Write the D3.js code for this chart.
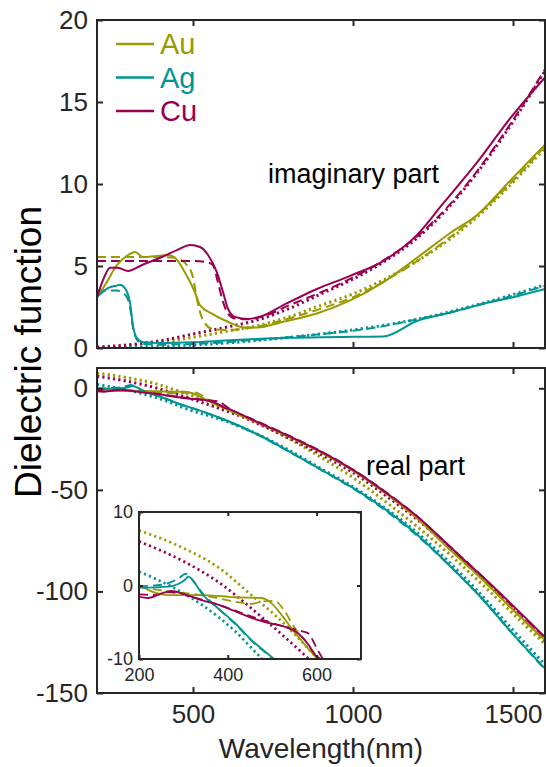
<!DOCTYPE html>
<html>
<head>
<meta charset="utf-8">
<script src="https://cdn.jsdelivr.net/npm/d3@7"></script>
<style>
  html, body { margin: 0; padding: 0; background: #fff; }
  svg { display: block; font-family: "Liberation Sans", Arial, Helvetica, sans-serif; }
</style>
</head>
<body>
<svg id="chart" width="546" height="767"></svg>
<script>
// ---- Data: [wavelength (nm), value] ----
// Imaginary part
const auImSolid = [[200,3.1],[230,4.0],[260,5.0],[297,5.67],[319,5.85],[344,5.55],[380,5.6],[422,5.67],[444,5.5],[475,4.6],[506,3.4],[522,2.6],[559,2.1],[609,1.6],[662,1.25],[700,1.25],[781,1.6],[887,2.1],[991,2.9],[1094,4.0],[1200,5.5],[1303,7.0],[1387,8.1],[1491,10.2],[1600,12.4]];
const auImDash = [[200,5.55],[300,5.55],[400,5.55],[444,5.5],[481,5.06],[500,4.3],[512,3.0],[531,1.7],[562,1.15],[600,1.1],[700,1.3],[800,1.8],[900,2.4],[1000,3.1],[1100,4.1],[1200,5.3],[1300,6.7],[1400,8.3],[1500,10.2],[1600,12.3]];
const auImDot = [[200,0.05],[300,0.15],[400,0.35],[500,0.65],[600,1.0],[700,1.35],[800,1.9],[900,2.6],[1000,3.3],[1100,4.2],[1200,5.3],[1300,6.6],[1400,8.2],[1500,10.1],[1600,12.2]];

const agImSolid = [[200,3.1],[234,3.65],[260,3.8],[272,3.85],[287,3.65],[303,2.8],[312,1.4],[325,0.6],[344,0.35],[400,0.3],[500,0.35],[600,0.45],[700,0.55],[800,0.62],[900,0.65],[1000,0.68],[1094,0.7],[1200,1.65],[1303,2.15],[1387,2.6],[1500,3.1],[1600,3.6]];
const agImDash = [[200,3.5],[230,3.5],[262,3.5],[276,3.4],[290,3.2],[303,2.5],[312,1.3],[325,0.5],[344,0.25],[400,0.2],[500,0.25],[600,0.35],[700,0.5],[800,0.65],[900,0.85],[1000,1.05],[1100,1.35],[1200,1.75],[1300,2.15],[1400,2.65],[1500,3.2],[1600,3.8]];
const agImDot = [[200,0.02],[400,0.1],[600,0.3],[800,0.65],[1000,1.1],[1200,1.75],[1400,2.7],[1600,3.85]];

const cuImSolid = [[200,3.1],[220,4.2],[241,4.9],[265,4.9],[297,4.7],[341,5.06],[403,5.55],[453,6.0],[491,6.28],[522,6.16],[547,5.67],[575,4.6],[594,3.4],[609,2.4],[631,1.9],[672,1.77],[716,1.95],[781,2.6],[887,3.6],[991,4.4],[1094,5.3],[1200,6.9],[1281,8.8],[1387,11.3],[1491,14.0],[1600,16.5]];
const cuImDash = [[200,5.3],[300,5.3],[400,5.3],[500,5.3],[540,5.25],[562,5.06],[578,4.0],[594,2.8],[609,2.1],[631,1.8],[672,1.75],[716,1.9],[800,2.6],[900,3.4],[1000,4.3],[1100,5.4],[1200,6.8],[1300,8.7],[1400,11.1],[1500,13.9],[1600,17.0]];
const cuImDot = [[200,0.05],[300,0.2],[400,0.45],[500,0.85],[600,1.25],[700,1.7],[800,2.4],[900,3.3],[1000,4.2],[1100,5.3],[1200,6.7],[1300,8.6],[1400,11.0],[1500,13.8],[1600,16.9]];

// Real part
const auReSolid = [[200,0.07],[228,-0.8],[266,-1.3],[341,-1.3],[416,-1.6],[476,-1.7],[498,-2.4],[521,-4.0],[543,-5.8],[573,-8.0],[600,-9.9],[650,-13.5],[700,-16.8],[800,-23.8],[900,-31.5],[1000,-40.5],[1100,-51.5],[1200,-64],[1300,-79],[1400,-93.5],[1500,-109],[1600,-124]];
const auReDash = [[200,-0.2],[266,-0.8],[341,-1.3],[416,-2.2],[453,-2.5],[476,-2.2],[506,-2.1],[528,-3.5],[551,-5.8],[581,-8.0],[603,-9.9],[700,-16.5],[800,-23.8],[900,-31.5],[1000,-40.5],[1100,-51.5],[1200,-64],[1300,-79],[1400,-93.5],[1500,-109],[1600,-124.5]];
const auReDot = [[200,7.5],[303,5.0],[378,2.5],[453,-1.3],[513,-4.4],[566,-7.6],[600,-9.8],[700,-16.8],[800,-24.8],[900,-34],[1000,-44],[1100,-55.6],[1200,-68],[1300,-81.5],[1400,-96],[1500,-111],[1600,-126]];

const agReSolid = [[200,-0.3],[266,-0.15],[303,0.74],[311,1.2],[326,0.3],[341,-1.06],[378,-3.1],[416,-5.1],[453,-7.4],[502,-9.9],[600,-15.5],[700,-22.5],[800,-31],[900,-40],[1000,-49],[1100,-59.5],[1200,-72],[1300,-87],[1400,-103],[1500,-121],[1600,-138]];
const agReDash = [[200,-0.1],[250,0.1],[290,1.0],[305,1.6],[320,0.8],[341,-0.9],[378,-3.1],[416,-5.2],[453,-7.5],[502,-10],[600,-15.7],[700,-22.7],[800,-31.2],[900,-40.2],[1000,-49.3],[1100,-60],[1200,-72.5],[1300,-87],[1400,-103],[1500,-121],[1600,-138.5]];
const agReDot = [[200,1.9],[266,0.07],[341,-2.6],[416,-6.2],[476,-9.9],[600,-16.0],[700,-22.5],[800,-30.5],[900,-39.5],[1000,-48.5],[1100,-59],[1200,-71],[1300,-85.5],[1400,-101.5],[1500,-119],[1600,-136]];

const cuReSolid = [[200,-1.5],[221,-1.7],[251,-1.06],[273,-0.75],[303,-1.2],[341,-2.0],[378,-2.6],[416,-3.5],[453,-4.4],[491,-5.1],[528,-5.6],[558,-6.5],[581,-8.0],[596,-9.4],[611,-10.1],[650,-12.8],[700,-16.5],[800,-23.5],[900,-31.2],[1000,-40.2],[1100,-51],[1200,-63],[1300,-77.5],[1375,-88.5],[1400,-92],[1500,-107],[1600,-122.5]];
const cuReDash = [[200,-1.2],[238,-1.3],[266,-0.9],[303,-1.3],[378,-2.6],[453,-4.2],[528,-5.6],[566,-6.2],[581,-6.5],[600,-8.5],[615,-10.1],[700,-16.2],[800,-23.3],[900,-31],[1000,-40],[1100,-50.8],[1200,-63],[1300,-77.5],[1400,-92],[1500,-107.5],[1600,-123]];
const cuReDot = [[200,6.0],[303,3.2],[378,0.5],[453,-3.1],[513,-6.2],[581,-9.9],[650,-13.8],[700,-17.2],[800,-24.5],[900,-32.5],[1000,-41.5],[1100,-52.5],[1200,-64.5],[1300,-78],[1400,-93],[1500,-108.5],[1600,-124]];

// Legend / ticks
const metals = ["Au", "Ag", "Cu"];
const metalColors = { Au: "#999900", Ag: "#009494", Cu: "#990050" };
const topTicks = [0, 5, 10, 15, 20];
const bottomTicks = [-150, -100, -50, 0];
const xTicks = [500, 1000, 1500];
const insetXTicks = [200, 400, 600];
const insetYTicks = [-10, 0, 10];

// ---- Line style per model ----
const styles = {
  solid: { width: 2, dash: null },
  dash:  { width: 2, dash: "9,5" },
  dot:   { width: 3, dash: "2.2,3.2" }
};
const imagSeries = [
  ["Au", "dot", auImDot], ["Ag", "dot", agImDot], ["Cu", "dot", cuImDot],
  ["Au", "dash", auImDash], ["Ag", "dash", agImDash], ["Cu", "dash", cuImDash],
  ["Au", "solid", auImSolid], ["Ag", "solid", agImSolid], ["Cu", "solid", cuImSolid]
];
const realSeries = [
  ["Au", "dot", auReDot], ["Ag", "dot", agReDot], ["Cu", "dot", cuReDot],
  ["Au", "dash", auReDash], ["Ag", "dash", agReDash], ["Cu", "dash", cuReDash],
  ["Au", "solid", auReSolid], ["Ag", "solid", agReSolid], ["Cu", "solid", cuReSolid]
];

const svg = d3.select("#chart");
const axisColor = "#262626";
const tickFont = 26;
const fmt = d => String(d);

// ---- Scales ----
const x = d3.scaleLinear().domain([200, 1600]).range([97, 545]);
const yTop = d3.scaleLinear().domain([0, 20]).range([348, 20]);
const yBot = d3.scaleLinear().domain([-150, 10]).range([693, 368]);
const xIn = d3.scaleLinear().domain([200, 700]).range([139, 361]);
const yIn = d3.scaleLinear().domain([-10, 10]).range([659, 512]);

const defs = svg.append("defs");
function clip(id, xs, ys) {
  defs.append("clipPath").attr("id", id).append("rect")
    .attr("x", xs.range()[0]).attr("y", ys.range()[1])
    .attr("width", xs.range()[1] - xs.range()[0])
    .attr("height", ys.range()[0] - ys.range()[1]);
}
clip("clipTop", x, yTop);
clip("clipBot", x, yBot);
clip("clipIn", xIn, yIn);

function drawSeries(g, list, xs, ys, widthScale) {
  const line = d3.line().x(d => xs(d[0])).y(d => ys(d[1])).curve(d3.curveMonotoneX);
  list.forEach(([metal, kind, data]) => {
    const st = styles[kind];
    g.append("path")
      .datum(data)
      .attr("d", line)
      .attr("fill", "none")
      .attr("stroke", metalColors[metal])
      .attr("stroke-width", st.width * widthScale)
      .attr("stroke-dasharray", st.dash)
      .attr("stroke-linejoin", "round");
  });
}

function frame(xs, ys, sw) {
  svg.append("rect")
    .attr("x", xs.range()[0]).attr("y", ys.range()[1])
    .attr("width", xs.range()[1] - xs.range()[0])
    .attr("height", ys.range()[0] - ys.range()[1])
    .attr("fill", "none").attr("stroke", axisColor).attr("stroke-width", sw);
}

function styleAxis(g, size) {
  g.select(".domain").remove();
  g.selectAll(".tick line").attr("stroke", axisColor).attr("stroke-width", 2);
  g.selectAll(".tick text").attr("fill", "#262626").attr("font-size", size)
    .attr("font-family", "'Liberation Sans', Arial, sans-serif");
}

// Boxed axes with inward ticks on all four sides; labels only left/bottom
function boxAxes(xs, ys, xTv, yTv, opt) {
  const [x0, x1] = xs.range();
  const [yb, yt] = ys.range();
  svg.append("g").attr("transform", `translate(${x0},0)`)
    .call(d3.axisLeft(ys).tickValues(yTv).tickSizeInner(-opt.tick).tickSizeOuter(0)
      .tickPadding(opt.yPad).tickFormat(opt.yLabels ? fmt : ""))
    .call(g => styleAxis(g, opt.font));
  svg.append("g").attr("transform", `translate(${x1},0)`)
    .call(d3.axisRight(ys).tickValues(yTv).tickSizeInner(-opt.tick).tickSizeOuter(0).tickFormat(""))
    .call(g => styleAxis(g, opt.font));
  svg.append("g").attr("transform", `translate(0,${yb})`)
    .call(d3.axisBottom(xs).tickValues(xTv).tickSizeInner(-opt.tick).tickSizeOuter(0)
      .tickPadding(opt.xPad).tickFormat(opt.xLabels ? fmt : ""))
    .call(g => styleAxis(g, opt.font));
  svg.append("g").attr("transform", `translate(0,${yt})`)
    .call(d3.axisTop(xs).tickValues(xTv).tickSizeInner(-opt.tick).tickSizeOuter(0).tickFormat(""))
    .call(g => styleAxis(g, opt.font));
  frame(xs, ys, 2);
}

// ---- Top panel: imaginary part ----
const gTop = svg.append("g").attr("clip-path", "url(#clipTop)");
drawSeries(gTop, imagSeries, x, yTop, 1);
boxAxes(x, yTop, xTicks, topTicks, { tick: 6, font: tickFont, yPad: 9, xPad: 12, yLabels: true, xLabels: false });

// ---- Bottom panel: real part ----
const gBot = svg.append("g").attr("clip-path", "url(#clipBot)");
drawSeries(gBot, realSeries, x, yBot, 1);
boxAxes(x, yBot, xTicks, bottomTicks, { tick: 6, font: tickFont, yPad: 9, xPad: 12, yLabels: true, xLabels: true });

// ---- Inset: short-wavelength detail of the real part ----
svg.append("rect")
  .attr("x", xIn.range()[0]).attr("y", yIn.range()[1])
  .attr("width", xIn.range()[1] - xIn.range()[0])
  .attr("height", yIn.range()[0] - yIn.range()[1])
  .attr("fill", "#fff");
const gIn = svg.append("g").attr("clip-path", "url(#clipIn)");
drawSeries(gIn, realSeries, xIn, yIn, 0.9);
boxAxes(xIn, yIn, insetXTicks, insetYTicks, { tick: 4, font: 18, yPad: 6, xPad: 9, yLabels: true, xLabels: true });

// ---- Legend ----
const legend = svg.append("g");
metals.forEach((m, i) => {
  const yy = 44 + i * 33.5;
  legend.append("line").attr("x1", 116).attr("x2", 154).attr("y1", yy).attr("y2", yy)
    .attr("stroke", metalColors[m]).attr("stroke-width", 2.5);
  legend.append("text").attr("x", 160).attr("y", yy).attr("dy", "0.36em")
    .attr("font-size", 29).attr("fill", metalColors[m]).text(m);
});

// ---- Annotations and axis titles ----
svg.append("text").attr("x", 268).attr("y", 183).attr("font-size", 27).attr("fill", "#000").text("imaginary part");
svg.append("text").attr("x", 366).attr("y", 475).attr("font-size", 27).attr("fill", "#000").text("real part");

svg.append("text")
  .attr("transform", "translate(41,352) rotate(-90)")
  .attr("text-anchor", "middle").attr("font-size", 37).attr("fill", "#000")
  .text("Dielectric function");
svg.append("text")
  .attr("x", 321).attr("y", 758).attr("text-anchor", "middle")
  .attr("font-size", 28).attr("fill", "#262626")
  .text("Wavelength(nm)");
</script>
</body>
</html>
